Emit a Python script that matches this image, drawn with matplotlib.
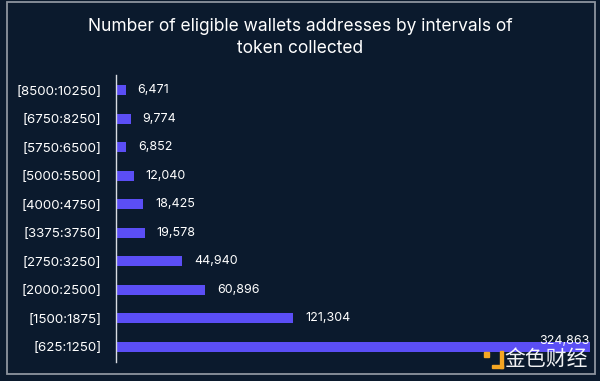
import matplotlib
matplotlib.use("Agg")
import matplotlib.pyplot as plt
from matplotlib.patches import Rectangle

categories = ["[625:1250]", "[1500:1875]", "[2000:2500]", "[2750:3250]", "[3375:3750]",
              "[4000:4750]", "[5000:5500]", "[5750:6500]", "[6750:8250]", "[8500:10250]"]
values = [324863, 121304, 60896, 44940, 19578, 18425, 12040, 6852, 9774, 6471]
title = "Number of eligible wallets addresses by intervals of\ntoken collected"
watermark = "金色财经"

BG = "#0b1a2d"
BAR = "#5b4ef5"
FONT = ["Inter", "DejaVu Sans"]

fig = plt.figure(figsize=(6, 3.81), dpi=100, facecolor=BG)
W, H = 600, 381

# outer frame
fig.patches.append(Rectangle((7 / W, 7 / H), (595 - 7) / W, (379 - 7) / H,
                             transform=fig.transFigure, fill=False,
                             edgecolor="#8d949e", linewidth=1.3))

ax = fig.add_axes([116.5 / W, (H - 362) / H, (590 - 116.5) / W, (362 - 75) / H])
ax.set_facecolor(BG)
ypos = list(range(len(categories)))
ax.barh(ypos, values, height=0.35, color=BAR)
ax.set_ylim(-0.54, 9.53)
ax.set_xlim(0, max(values))
ax.set_yticks(ypos)
ax.set_yticklabels(categories, family=FONT, fontsize=9.6, color="white")
ax.tick_params(axis="y", length=0, pad=11)
ax.set_xticks([])
for s in ["top", "right", "bottom"]:
    ax.spines[s].set_visible(False)
ax.spines["left"].set_color("#d8dce2")
ax.spines["left"].set_linewidth(1.0)

for y, v in zip(ypos, values):
    lab = f"{v:,}"
    if v == max(values):
        ax.annotate(lab, (v, y), xytext=(0, 4), textcoords="offset points",
                    ha="right", va="center", color="white", fontsize=9, family=FONT)
    else:
        ax.annotate(lab, (v, y), xytext=(8.5, 0), textcoords="offset points",
                    ha="left", va="center", color="white", fontsize=9, family=FONT)

fig.text(0.5, (H - 37.5) / H, title, ha="center", va="center", color="white",
         fontsize=12.5, family=FONT, linespacing=1.45)

# watermark
fig.text(588 / W, (H - 359) / H, watermark, ha="right", va="center", color="white",
         fontsize=15, family=["Noto Sans CJK SC", "DejaVu Sans"], alpha=0.95)
fig.patches.append(Rectangle((484 / W, (H - 357) / H), 5 / W, 5 / H,
                             transform=fig.transFigure, color="#f5a623"))
fig.patches.append(Rectangle((492 / W, (H - 368) / H), 11 / W, 3.5 / H,
                             transform=fig.transFigure, color="#f5a623"))
fig.patches.append(Rectangle((499.5 / W, (H - 368) / H), 3.5 / W, 17 / H,
                             transform=fig.transFigure, color="#f5a623"))

fig.savefig("out.png", dpi=100, facecolor=BG)
